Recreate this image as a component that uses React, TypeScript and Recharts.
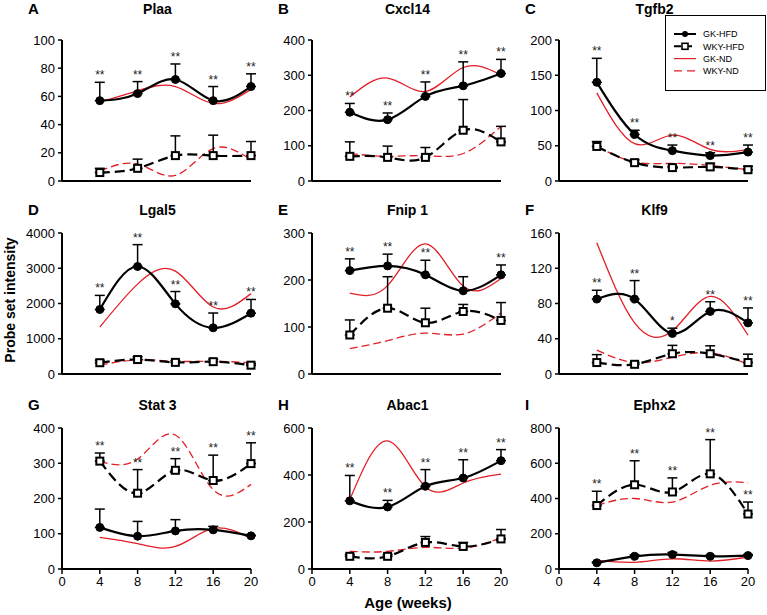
import React from 'react';
import { LineChart, Line, XAxis, YAxis, ErrorBar, LabelList } from 'recharts';

const ages = [4, 8, 12, 16, 20];
const xTicks = [0, 4, 8, 12, 16, 20];
const legendLabels = ['GK-HFD', 'WKY-HFD', 'GK-ND', 'WKY-ND'];

// A - Plaa
const plaaTicks = [0, 20, 40, 60, 80, 100];
const plaaGkHfd = [57, 62, 72, 57, 67];
const plaaGkHfdSd = [13, 8.5, 11, 10, 9];
const plaaWkyHfd = [6, 9, 18, 18, 18];
const plaaWkyHfdSd = [3, 6.5, 14, 14.5, 10];
const plaaGkNd = [56, 64, 67, 55, 65];
const plaaWkyNd = [7, 12, 4, 23, 15];
const plaaSig = ['**', '**', '**', '**', '**'];

// B - Cxcl14
const cxclTicks = [0, 100, 200, 300, 400];
const cxclGkHfd = [195, 174, 240, 270, 305];
const cxclGkHfdSd = [25, 19, 41, 68, 40];
const cxclWkyHfd = [70, 67, 67, 144, 111];
const cxclWkyHfdSd = [41, 32, 28, 87, 44];
const cxclGkNd = [238, 292, 254, 322, 301];
const cxclWkyNd = [78, 70, 72, 78, 155];
const cxclSig = ['**', '**', '**', '**', '**'];

// C - Tgfb2
const tgfbTicks = [0, 50, 100, 150, 200];
const tgfbGkHfd = [140, 66, 43, 36, 41];
const tgfbGkHfdSd = [34, 6, 8, 4, 10];
const tgfbWkyHfd = [49, 26, 19, 20, 16];
const tgfbWkyHfdSd = [7, 4, 2, 5, 5];
const tgfbGkNd = [125, 53, 65, 45, 45];
const tgfbWkyNd = [49, 27, 25, 22, 16];
const tgfbSig = ['**', '**', '**', '**', '**'];

// D - Lgal5
const lgalTicks = [0, 1000, 2000, 3000, 4000];
const lgalGkHfd = [1830, 3050, 1990, 1310, 1725];
const lgalGkHfdSd = [400, 620, 350, 420, 390];
const lgalWkyHfd = [320, 410, 330, 350, 250];
const lgalWkyHfdSd = [70, 80, 50, 70, 50];
const lgalGkNd = [1330, 2550, 2920, 1900, 2280];
const lgalWkyNd = [250, 400, 360, 360, 320];
const lgalSig = ['**', '**', '**', '**', '**'];

// E - Fnip 1
const fnipTicks = [0, 100, 200, 300];
const fnipGkHfd = [220, 230, 211, 177, 211];
const fnipGkHfdSd = [25, 25, 31, 30, 21];
const fnipWkyHfd = [83, 140, 109, 133, 114];
const fnipWkyHfdSd = [32, 67, 31, 15, 38];
const fnipGkNd = [172, 188, 277, 187, 203];
const fnipWkyNd = [54, 71, 87, 85, 130];
const fnipSig = ['**', '**', '**', '', '**'];

// F - Klf9
const klfTicks = [0, 40, 80, 120, 160];
const klfGkHfd = [85, 85, 46, 71, 58];
const klfGkHfdSd = [10, 21, 6, 11, 17];
const klfWkyHfd = [13, 11, 23, 23, 13];
const klfWkyHfdSd = [9, 2, 9.5, 9, 9.5];
const klfGkNd = [149, 58, 49, 88, 44];
const klfWkyNd = [27, 13, 19, 24, 11];
const klfSig = ['**', '**', '*', '**', '**'];

// G - Stat 3
const statTicks = [0, 100, 200, 300, 400];
const statGkHfd = [118, 93, 108, 111, 94];
const statGkHfdSd = [52, 42, 32, 10, 2];
const statWkyHfd = [306, 215, 280, 251, 299];
const statWkyHfdSd = [23, 67, 33, 72, 59];
const statGkNd = [90, 72, 64, 115, 86];
const statWkyNd = [305, 312, 380, 225, 240];
const statSig = ['**', '**', '**', '**', '**'];

// H - Abac1
const abacTicks = [0, 200, 400, 600];
const abacGkHfd = [290, 264, 352, 387, 461];
const abacGkHfdSd = [108, 28, 71, 78, 47];
const abacWkyHfd = [54, 54, 113, 96, 128];
const abacWkyHfdSd = [8, 8, 25, 17, 40];
const abacGkNd = [295, 545, 350, 366, 404];
const abacWkyNd = [75, 75, 92, 89, 132];
const abacSig = ['**', '**', '**', '**', '**'];

// I - Ephx2
const ephxTicks = [0, 200, 400, 600, 800];
const ephxGkHfd = [35, 72, 82, 72, 76];
const ephxGkHfdSd = [5, 8, 12, 6, 6];
const ephxWkyHfd = [360, 478, 437, 540, 312];
const ephxWkyHfdSd = [81, 136, 80, 194, 68];
const ephxGkNd = [50, 38, 58, 45, 68];
const ephxWkyNd = [360, 400, 380, 475, 490];
const ephxSig = ['**', '**', '**', '**', '**'];

const panels = [
  { letter: 'A', title: 'Plaa', yTicks: plaaTicks, gk: plaaGkHfd, gkSd: plaaGkHfdSd, wky: plaaWkyHfd, wkySd: plaaWkyHfdSd, gkNd: plaaGkNd, wkyNd: plaaWkyNd, sig: plaaSig },
  { letter: 'B', title: 'Cxcl14', yTicks: cxclTicks, gk: cxclGkHfd, gkSd: cxclGkHfdSd, wky: cxclWkyHfd, wkySd: cxclWkyHfdSd, gkNd: cxclGkNd, wkyNd: cxclWkyNd, sig: cxclSig },
  { letter: 'C', title: 'Tgfb2', yTicks: tgfbTicks, gk: tgfbGkHfd, gkSd: tgfbGkHfdSd, wky: tgfbWkyHfd, wkySd: tgfbWkyHfdSd, gkNd: tgfbGkNd, wkyNd: tgfbWkyNd, sig: tgfbSig },
  { letter: 'D', title: 'Lgal5', yTicks: lgalTicks, gk: lgalGkHfd, gkSd: lgalGkHfdSd, wky: lgalWkyHfd, wkySd: lgalWkyHfdSd, gkNd: lgalGkNd, wkyNd: lgalWkyNd, sig: lgalSig },
  { letter: 'E', title: 'Fnip 1', yTicks: fnipTicks, gk: fnipGkHfd, gkSd: fnipGkHfdSd, wky: fnipWkyHfd, wkySd: fnipWkyHfdSd, gkNd: fnipGkNd, wkyNd: fnipWkyNd, sig: fnipSig },
  { letter: 'F', title: 'Klf9', yTicks: klfTicks, gk: klfGkHfd, gkSd: klfGkHfdSd, wky: klfWkyHfd, wkySd: klfWkyHfdSd, gkNd: klfGkNd, wkyNd: klfWkyNd, sig: klfSig },
  { letter: 'G', title: 'Stat 3', yTicks: statTicks, gk: statGkHfd, gkSd: statGkHfdSd, wky: statWkyHfd, wkySd: statWkyHfdSd, gkNd: statGkNd, wkyNd: statWkyNd, sig: statSig },
  { letter: 'H', title: 'Abac1', yTicks: abacTicks, gk: abacGkHfd, gkSd: abacGkHfdSd, wky: abacWkyHfd, wkySd: abacWkyHfdSd, gkNd: abacGkNd, wkyNd: abacWkyNd, sig: abacSig },
  { letter: 'I', title: 'Ephx2', yTicks: ephxTicks, gk: ephxGkHfd, gkSd: ephxGkHfdSd, wky: ephxWkyHfd, wkySd: ephxWkyHfdSd, gkNd: ephxGkNd, wkyNd: ephxWkyNd, sig: ephxSig },
];

const FONT = '"Liberation Sans", Arial, sans-serif';
const RED = '#e41e26';
const colLeft = [62, 312, 559];
const rowTop = [40, 233, 428];
const titleBase = [14, 215, 410];
const PLOT_W = 189;
const PLOT_H = 141;

const squareDot = (props: any) => {
  const { cx, cy, index } = props;
  if (cx == null || cy == null) return <g key={`sq-${index}`} />;
  return (
    <rect key={`sq-${index}`} x={cx - 3.5} y={cy - 3.5} width={7} height={7}
      fill="#fff" stroke="#000" strokeWidth={2} />
  );
};

const Panel = ({ p, idx }: { p: any; idx: number }) => {
  const col = idx % 3;
  const row = Math.floor(idx / 3);
  const data = ages.map((age, i) => ({
    age,
    gk: p.gk[i],
    gkErr: [0, p.gkSd[i]],
    wky: p.wky[i],
    wkyErr: [0, p.wkySd[i]],
    gkNd: p.gkNd[i],
    wkyNd: p.wkyNd[i],
    sigTop: Math.max(p.gk[i] + p.gkSd[i], p.wky[i] + p.wkySd[i]),
    sig: p.sig[i],
  }));
  const yMax = p.yTicks[p.yTicks.length - 1];

  return (
    <div style={{ position: 'absolute', left: colLeft[col] - 50, top: rowTop[row] - 40 }}>
      <LineChart width={PLOT_W + 65} height={PLOT_H + 70} data={data}
        margin={{ top: 40, right: 15, left: 10, bottom: 0 }}>
        <XAxis type="number" dataKey="age" domain={[0, 20]} ticks={xTicks} height={30}
          axisLine={{ stroke: '#000', strokeWidth: 2 }}
          tickLine={{ stroke: '#000', strokeWidth: 1.5 }}
          tickSize={5} tickMargin={3}
          tick={row === 2 ? { fill: '#000', fontSize: 13, fontFamily: FONT } : false} />
        <YAxis type="number" domain={[0, yMax]} ticks={p.yTicks} width={40}
          axisLine={{ stroke: '#000', strokeWidth: 2 }}
          tickLine={{ stroke: '#000', strokeWidth: 1.5 }}
          tickSize={4} tickMargin={3}
          tick={{ fill: '#000', fontSize: 13, fontFamily: FONT }} />
        <Line dataKey="gkNd" type="natural" stroke={RED} strokeWidth={1.3}
          dot={false} activeDot={false} isAnimationActive={false} />
        <Line dataKey="wkyNd" type="natural" stroke={RED} strokeWidth={1.3} strokeDasharray="8 4"
          dot={false} activeDot={false} isAnimationActive={false} />
        <Line dataKey="wky" type="natural" stroke="#000" strokeWidth={2.2} strokeDasharray="10 5"
          dot={squareDot} activeDot={false} isAnimationActive={false}>
          <ErrorBar dataKey="wkyErr" direction="y" width={5} stroke="#000" strokeWidth={1.5} />
        </Line>
        <Line dataKey="gk" type="natural" stroke="#000" strokeWidth={2.2}
          dot={{ r: 4, fill: '#000', stroke: '#000', strokeWidth: 1 }} activeDot={false}
          isAnimationActive={false}>
          <ErrorBar dataKey="gkErr" direction="y" width={5} stroke="#000" strokeWidth={1.5} />
        </Line>
        <Line dataKey="sigTop" stroke="none" dot={false} activeDot={false} isAnimationActive={false}>
          <LabelList dataKey="sig" position="top" offset={3} fill="#222" fontSize={12} fontFamily={FONT} />
        </Line>
      </LineChart>
    </div>
  );
};

const Overlay = () => (
  <svg width={767} height={615} style={{ position: 'absolute', left: 0, top: 0, pointerEvents: 'none' }}
    fontFamily={FONT}>
    {panels.map((p, i) => {
      const col = i % 3;
      const row = Math.floor(i / 3);
      return (
        <g key={p.letter}>
          <text x={colLeft[col] - 34} y={titleBase[row]} fontSize={15} fontWeight="bold" fill="#000">{p.letter}</text>
          <text x={colLeft[col] + PLOT_W / 2 + 1} y={titleBase[row]} fontSize={14} fontWeight="bold"
            textAnchor="middle" fill="#000">{p.title}</text>
        </g>
      );
    })}
    <text transform="translate(15,300) rotate(-90)" textAnchor="middle" fontSize={14} fontWeight="bold" fill="#000">
      Probe set intensity
    </text>
    <text x={408} y={608} textAnchor="middle" fontSize={15} fontWeight="bold" fill="#000">Age (weeks)</text>

    <rect x={665.5} y={15.5} width={100} height={75} fill="#fff" stroke="#000" strokeWidth={1} />
    {legendLabels.map((lab, i) => {
      const y = 34 + i * 12.3;
      return (
        <g key={lab}>
          {i === 0 && <line x1={674} x2={696} y1={y} y2={y} stroke="#000" strokeWidth={2} />}
          {i === 0 && <circle cx={685} cy={y} r={3} fill="#000" />}
          {i === 1 && <line x1={674} x2={696} y1={y} y2={y} stroke="#000" strokeWidth={2} strokeDasharray="7 4" />}
          {i === 1 && <rect x={682} y={y - 3} width={6} height={6} fill="#fff" stroke="#000" strokeWidth={1.6} />}
          {i === 2 && <line x1={674} x2={696} y1={y} y2={y} stroke={RED} strokeWidth={1.2} />}
          {i === 3 && <line x1={674} x2={696} y1={y} y2={y} stroke={RED} strokeWidth={1.2} strokeDasharray="8 5" />}
          <text x={703} y={y + 3.2} fontSize={9} fill="#000">{lab}</text>
        </g>
      );
    })}
  </svg>
);

export default function App() {
  return (
    <div style={{ position: 'absolute', left: 0, top: 0, width: 767, height: 615, background: '#fff', overflow: 'hidden', fontFamily: FONT }}>
      {panels.map((p, i) => (
        <Panel key={p.letter} p={p} idx={i} />
      ))}
      <Overlay />
    </div>
  );
}
